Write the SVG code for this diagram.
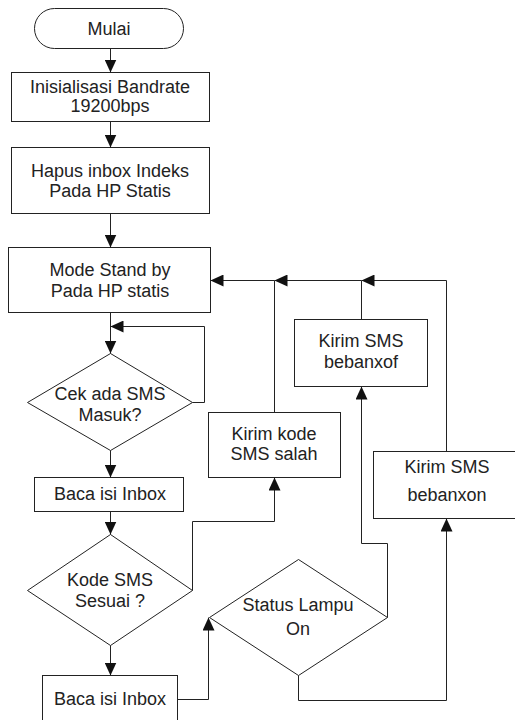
<svg xmlns="http://www.w3.org/2000/svg" width="515" height="720" viewBox="0 0 515 720">
<defs>
<marker id="ah" markerUnits="userSpaceOnUse" markerWidth="13" markerHeight="12" refX="13" refY="6" orient="auto">
<path d="M0,0 L13,6 L0,12 z" fill="#111"/>
</marker>
<style>
.n{fill:#fff;stroke:#222;stroke-width:1}
.t{font-family:"Liberation Sans",Arial,sans-serif;font-size:18px;fill:#222;text-anchor:middle}
.c{fill:none;stroke:#222;stroke-width:1;marker-end:url(#ah)}
</style>
</defs>
<rect width="515" height="720" fill="#fff"/>
<g id="mulai"><rect class="n" x="34.5" y="8.5" width="149" height="40" rx="20"/><text class="t" x="109" y="35">Mulai</text></g>
<g id="init"><rect class="n" x="11.5" y="72.5" width="198" height="49"/><text class="t" x="110" y="93">Inisialisasi Bandrate</text><text class="t" x="110" y="112">19200bps</text></g>
<g id="hapus"><rect class="n" x="11.5" y="147.5" width="198" height="66"/><text class="t" x="110" y="177">Hapus inbox Indeks</text><text class="t" x="110" y="197">Pada HP Statis</text></g>
<g id="mode"><rect class="n" x="8.5" y="247.5" width="202" height="65"/><text class="t" x="110" y="276">Mode Stand by</text><text class="t" x="110" y="297">Pada HP statis</text></g>
<g id="cek"><polygon class="n" points="110.5,353.5 192.5,402.5 110.5,450.5 27.5,402.5"/><text class="t" x="110" y="400">Cek ada SMS</text><text class="t" x="110" y="421">Masuk?</text></g>
<g id="baca1"><rect class="n" x="34.5" y="477.5" width="149" height="34"/><text class="t" x="110" y="500">Baca isi Inbox</text></g>
<g id="kode"><polygon class="n" points="110.5,534.5 192.5,590.5 110.5,645.5 27.5,590.5"/><text class="t" x="110" y="586">Kode SMS</text><text class="t" x="110" y="607">Sesuai ?</text></g>
<g id="baca2"><rect class="n" x="42.5" y="675.5" width="135" height="60"/><text class="t" x="110" y="705">Baca isi Inbox</text></g>
<g id="salah"><rect class="n" x="208.5" y="412.5" width="132" height="65"/><text class="t" x="274" y="440">Kirim kode</text><text class="t" x="274" y="460">SMS salah</text></g>
<g id="bebanxof"><rect class="n" x="294.5" y="319.5" width="133" height="67"/><text class="t" x="361" y="347">Kirim SMS</text><text class="t" x="361" y="368">bebanxof</text></g>
<g id="bebanxon"><rect class="n" x="373.5" y="451.5" width="150" height="67"/><text class="t" x="447" y="473">Kirim SMS</text><text class="t" x="447" y="501">bebanxon</text></g>
<g id="status"><polygon class="n" points="298.5,559.5 387.5,617.5 298.5,675.5 209.5,617.5"/><text class="t" x="298" y="611">Status Lampu</text><text class="t" x="298" y="635">On</text></g>
<g id="connectors">
<path class="c" d="M110.5,48.5 V72.5"/>
<path class="c" d="M110.5,121.5 V147.5"/>
<path class="c" d="M110.5,213.5 V247.5"/>
<path class="c" d="M110.5,312.5 V353.5"/>
<path class="c" d="M192.5,402.5 H204.5 V326.5 H110.5"/>
<path class="c" d="M110.5,450.5 V477.5"/>
<path class="c" d="M110.5,511.5 V534.5"/>
<path class="c" d="M110.5,645.5 V675.5"/>
<path class="c" d="M192.5,590.5 V521.5 H274.5 V477.5"/>
<path class="c" d="M177.5,699.5 H208.5 V617.5"/>
<path class="c" d="M387.5,617.5 V543.5 H361.5 V386.5"/>
<path class="c" d="M298.5,675.5 V700.5 H446.5 V518.5"/>
<path class="c" d="M446.5,451.5 V280.5 H361.5"/>
<path class="c" d="M361.5,319.5 V280.5 H274.5"/>
<path class="c" d="M274.5,412.5 V280.5 H210.5"/>
</g>
</svg>
